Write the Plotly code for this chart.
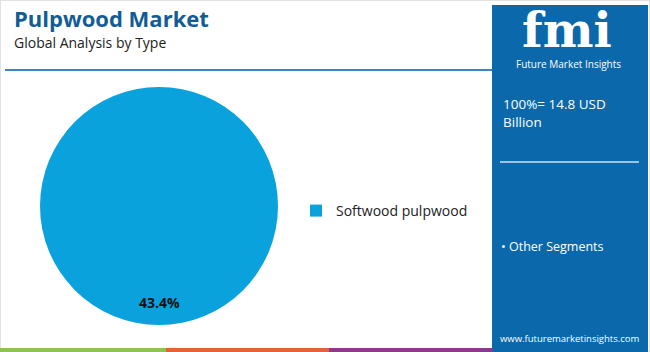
import plotly.graph_objects as go

# ---- data ----
categories = ["Softwood pulpwood"]
shares = [43.4]
total_label = "100%= 14.8 USD<br>Billion"
other_label = "• Other Segments"
title = "Pulpwood Market"
subtitle = "Global Analysis by Type"
site = "www.futuremarketinsights.com"

W, H = 650, 352
PIE_BLUE = "#0aa2dc"
PANEL = "#0b68ab"

def px(x):
    return x / W

def py(y):
    return 1 - y / H

fig = go.Figure()
fig.add_trace(go.Pie(
    labels=categories,
    values=shares,
    marker=dict(colors=[PIE_BLUE], line=dict(width=0)),
    textinfo="none",
    hoverinfo="label+percent",
    sort=False,
    showlegend=True,
    domain=dict(x=[px(40), px(278)], y=[py(325), py(87)]),
))

shapes = []
# outer light border
shapes.append(dict(type="rect", xref="paper", yref="paper", x0=0, x1=1, y0=0, y1=1,
                   line=dict(color="#e2e2e2", width=2), layer="below"))
# title underline
shapes.append(dict(type="line", xref="paper", yref="paper", x0=px(5), x1=px(492), y0=py(70), y1=py(70),
                   line=dict(color="#3d85bd", width=2)))
# right panel
shapes.append(dict(type="rect", xref="paper", yref="paper", x0=px(492), x1=px(648), y0=0, y1=py(5),
                   fillcolor=PANEL, line=dict(width=0), layer="below"))
# panel divider
shapes.append(dict(type="line", xref="paper", yref="paper", x0=px(500), x1=px(639), y0=py(162), y1=py(162),
                   line=dict(color="#9cc3e2", width=2)))
# bottom strip
for x0, x1, c in [(0, 166, "#8dc356"), (166, 329, "#e2633a"), (329, 493, "#8b3a8f")]:
    shapes.append(dict(type="rect", xref="paper", yref="paper", x0=px(x0), x1=px(x1), y0=0, y1=py(348),
                       fillcolor=c, line=dict(width=0)))
# logo stripes over the fmi letters
for yy in [18, 23, 28, 33, 38, 43, 48]:
    shapes.append(dict(type="line", xref="paper", yref="paper", x0=px(512), x1=px(622), y0=py(yy), y1=py(yy),
                       line=dict(color=PANEL, width=1.2), layer="above"))

annotations = [
    dict(text=f"<b>{title}</b>", x=px(12), y=py(18), xanchor="left", yanchor="middle",
         font=dict(family="Open Sans", size=22, color="#135c96"), showarrow=False),
    dict(text=subtitle, x=px(12), y=py(42), xanchor="left", yanchor="middle",
         font=dict(family="Open Sans", size=14, color="#222222"), showarrow=False),
    dict(text=f"<b>{shares[0]}%</b>", x=px(159), y=py(302), xanchor="center", yanchor="middle",
         font=dict(family="Open Sans", size=14, color="#111111"), showarrow=False),
    dict(text=total_label, x=px(501), y=py(113), xanchor="left", yanchor="middle", align="left",
         font=dict(family="Open Sans", size=13.5, color="white"), showarrow=False),
    dict(text=other_label, x=px(499), y=py(246), xanchor="left", yanchor="middle",
         font=dict(family="Open Sans", size=12.5, color="white"), showarrow=False),
    dict(text=site, x=px(570), y=py(338), xanchor="center", yanchor="middle",
         font=dict(family="Open Sans", size=9.5, color="white"), showarrow=False),
    dict(text="<b>fmi</b>", x=px(567), y=py(30), xanchor="center", yanchor="middle",
         font=dict(family="DejaVu Serif", size=48, color="white"), showarrow=False),
    dict(text="Future Market Insights", x=px(568), y=py(64), xanchor="center", yanchor="middle",
         font=dict(family="Open Sans", size=10, color="white"), showarrow=False),
]

fig.update_layout(
    width=W, height=H,
    margin=dict(l=0, r=0, t=0, b=0),
    paper_bgcolor="white",
    plot_bgcolor="white",
    shapes=shapes,
    annotations=annotations,
    legend=dict(x=px(296), y=py(211), xanchor="left", yanchor="middle",
                font=dict(family="Open Sans", size=14, color="#222222"),
                bgcolor="rgba(0,0,0,0)"),
)

fig.write_html("out.html")
